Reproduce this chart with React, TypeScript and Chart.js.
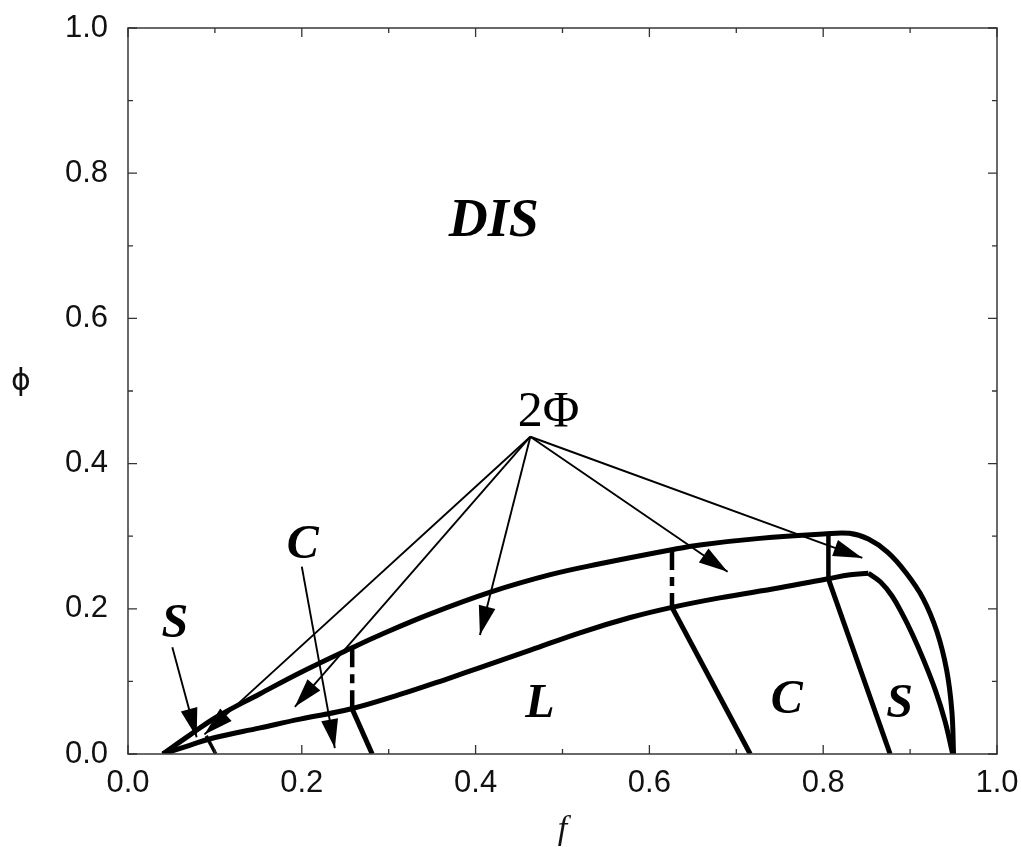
import React, { useEffect, useRef } from "react";
import { Chart, registerables } from "chart.js";

Chart.register(...registerables);

type Pt = { x: number; y: number };

// ---- data (f, phi) ----
const upperBoundary: Pt[] = [
  { x: 0.04, y: 0.0 }, { x: 0.071, y: 0.026 }, { x: 0.102, y: 0.051 }, { x: 0.152, y: 0.083 },
  { x: 0.198, y: 0.112 }, { x: 0.259, y: 0.147 }, { x: 0.29, y: 0.164 }, { x: 0.348, y: 0.193 },
  { x: 0.417, y: 0.223 }, { x: 0.486, y: 0.247 }, { x: 0.543, y: 0.262 }, { x: 0.624, y: 0.281 },
  { x: 0.658, y: 0.288 }, { x: 0.727, y: 0.297 }, { x: 0.8, y: 0.303 }, { x: 0.83, y: 0.304 },
  { x: 0.852, y: 0.296 }, { x: 0.874, y: 0.278 }, { x: 0.895, y: 0.25 }, { x: 0.915, y: 0.214 },
  { x: 0.931, y: 0.168 }, { x: 0.942, y: 0.116 }, { x: 0.948, y: 0.06 }, { x: 0.95, y: 0.0 },
];

const lowerBoundary: Pt[] = [
  { x: 0.04, y: 0.0 }, { x: 0.071, y: 0.012 }, { x: 0.098, y: 0.022 }, { x: 0.152, y: 0.036 },
  { x: 0.198, y: 0.048 }, { x: 0.256, y: 0.062 }, { x: 0.313, y: 0.082 }, { x: 0.371, y: 0.105 },
  { x: 0.405, y: 0.119 }, { x: 0.463, y: 0.143 }, { x: 0.52, y: 0.167 }, { x: 0.578, y: 0.188 },
  { x: 0.626, y: 0.202 }, { x: 0.681, y: 0.215 }, { x: 0.75, y: 0.229 }, { x: 0.804, y: 0.241 },
  { x: 0.831, y: 0.247 }, { x: 0.852, y: 0.249 },
];

const lowerTail: Pt[] = [
  { x: 0.852, y: 0.249 }, { x: 0.866, y: 0.237 }, { x: 0.879, y: 0.218 }, { x: 0.891, y: 0.193 },
  { x: 0.903, y: 0.164 }, { x: 0.915, y: 0.131 }, { x: 0.929, y: 0.088 }, { x: 0.94, y: 0.046 },
  { x: 0.949, y: 0.0 },
];

const boundaryLeft: Pt[] = [{ x: 0.258, y: 0.062 }, { x: 0.281, y: 0.0 }];
const boundaryMid: Pt[] = [{ x: 0.626, y: 0.202 }, { x: 0.716, y: 0.0 }];
const boundaryRight: Pt[] = [{ x: 0.806, y: 0.241 }, { x: 0.877, y: 0.0 }];
const boundaryTiny: Pt[] = [{ x: 0.09, y: 0.025 }, { x: 0.101, y: 0.0 }];

const tieLeft: Pt[] = [{ x: 0.258, y: 0.147 }, { x: 0.258, y: 0.062 }];
const tieMid: Pt[] = [{ x: 0.626, y: 0.281 }, { x: 0.626, y: 0.202 }];
const tieRight: Pt[] = [{ x: 0.806, y: 0.303 }, { x: 0.806, y: 0.241 }];

const twoPhiOrigin: Pt = { x: 0.463, y: 0.437 };
const twoPhiTips: Pt[] = [
  { x: 0.088, y: 0.027 }, { x: 0.192, y: 0.065 }, { x: 0.405, y: 0.164 },
  { x: 0.69, y: 0.251 }, { x: 0.845, y: 0.27 },
];
const arrowC: Pt[] = [{ x: 0.2, y: 0.258 }, { x: 0.238, y: 0.008 }];
const arrowS: Pt[] = [{ x: 0.051, y: 0.147 }, { x: 0.079, y: 0.023 }];

const tickLabels = ["0.0", "0.2", "0.4", "0.6", "0.8", "1.0"];
const minorTicks = [0, 0.1, 0.2, 0.3, 0.4, 0.5, 0.6, 0.7, 0.8, 0.9, 1.0];

const regionLabels = [
  { text: "DIS", x: 0.421, y: 0.733, kind: "big" },
  { text: "2Φ", x: 0.484, y: 0.47, kind: "roman" },
  { text: "C", x: 0.201, y: 0.287, kind: "bi" },
  { text: "S", x: 0.054, y: 0.178, kind: "bi" },
  { text: "L", x: 0.474, y: 0.068, kind: "bi" },
  { text: "C", x: 0.758, y: 0.074, kind: "bi" },
  { text: "S", x: 0.888, y: 0.068, kind: "bi" },
];

const fontFor: Record<string, string> = {
  big: 'bold italic 54px "Liberation Serif"',
  roman: '50px "Liberation Serif"',
  bi: 'bold italic 48px "Liberation Serif"',
};

const thick = (data: Pt[], extra: any = {}) => ({
  data,
  showLine: true,
  borderColor: "#000",
  borderWidth: 5,
  pointRadius: 0,
  borderCapStyle: "butt",
  borderJoinStyle: "round",
  ...extra,
});

const thin = (data: Pt[]) => ({
  data,
  showLine: true,
  borderColor: "#000",
  borderWidth: 1.9,
  pointRadius: 0,
  arrow: true,
});

const framePlugin = {
  id: "frame",
  beforeDraw(chart: any) {
    const { ctx, width, height } = chart;
    ctx.save();
    ctx.fillStyle = "#fff";
    ctx.fillRect(0, 0, width, height);
    ctx.restore();
  },
  afterDraw(chart: any) {
    const { ctx, chartArea: a, scales } = chart;
    ctx.save();
    ctx.strokeStyle = "#444";
    ctx.lineWidth = 1.6;
    ctx.strokeRect(a.left, a.top, a.right - a.left, a.bottom - a.top);
    ctx.lineWidth = 1.3;
    ctx.strokeStyle = "#333";
    minorTicks.forEach((v, i) => {
      const len = i % 2 === 0 ? 9 : 5;
      const px = scales.x.getPixelForValue(v);
      const py = scales.y.getPixelForValue(v);
      ctx.beginPath();
      ctx.moveTo(px, a.bottom); ctx.lineTo(px, a.bottom - len);
      ctx.moveTo(px, a.top); ctx.lineTo(px, a.top + len);
      ctx.moveTo(a.left, py); ctx.lineTo(a.left + len, py);
      ctx.moveTo(a.right, py); ctx.lineTo(a.right - len, py);
      ctx.stroke();
    });
    // axis titles
    ctx.fillStyle = "#111";
    ctx.textAlign = "center";
    ctx.textBaseline = "middle";
    ctx.font = '30px "DejaVu Sans"';
    ctx.fillText("ϕ", 21, (a.top + a.bottom) / 2 - 9);
    ctx.font = 'italic 34px "Liberation Serif"';
    ctx.textBaseline = "alphabetic";
    ctx.fillText("f", (a.left + a.right) / 2, 839);
    ctx.restore();
  },
};

const arrowPlugin = {
  id: "arrows",
  afterDatasetsDraw(chart: any) {
    const { ctx } = chart;
    ctx.save();
    ctx.fillStyle = "#000";
    chart.data.datasets.forEach((ds: any, i: number) => {
      if (!ds.arrow) return;
      const pts = chart.getDatasetMeta(i).data;
      const n = pts.length;
      const tip = pts[n - 1];
      const prev = pts[n - 2];
      const dx = tip.x - prev.x;
      const dy = tip.y - prev.y;
      const d = Math.hypot(dx, dy) || 1;
      const ux = dx / d, uy = dy / d;
      const L = 29, W = 8.5;
      const bx = tip.x - ux * L, by = tip.y - uy * L;
      ctx.beginPath();
      ctx.moveTo(tip.x, tip.y);
      ctx.lineTo(bx - uy * W, by + ux * W);
      ctx.lineTo(bx + uy * W, by - ux * W);
      ctx.closePath();
      ctx.fill();
    });
    ctx.restore();
  },
};

const labelPlugin = {
  id: "labels",
  afterDatasetsDraw(chart: any) {
    const { ctx, scales } = chart;
    ctx.save();
    ctx.fillStyle = "#000";
    ctx.textAlign = "center";
    ctx.textBaseline = "middle";
    regionLabels.forEach((l) => {
      ctx.font = fontFor[l.kind];
      ctx.fillText(l.text, scales.x.getPixelForValue(l.x), scales.y.getPixelForValue(l.y));
    });
    ctx.restore();
  },
};

export default function App() {
  const ref = useRef<HTMLCanvasElement | null>(null);
  useEffect(() => {
    if (!ref.current) return;
    const tickCfg = {
      stepSize: 0.2,
      font: { family: "Liberation Sans", size: 31 },
      color: "#111",
      callback: (v: any) => tickLabels[Math.round(Number(v) / 0.2)] ?? "",
    };
    const chart = new Chart(ref.current, {
      type: "scatter",
      data: {
        datasets: [
          thick(upperBoundary, { tension: 0.4 }),
          thick(lowerBoundary, { tension: 0.4 }),
          thick(lowerTail, { tension: 0.4 }),
          thick(boundaryLeft),
          thick(boundaryMid),
          thick(boundaryRight),
          thick(boundaryTiny, { borderWidth: 3.5 }),
          thick(tieLeft, { borderDash: [20, 7, 9, 7], borderWidth: 4.5 }),
          thick(tieMid, { borderDash: [20, 7, 9, 7], borderWidth: 4.5 }),
          thick(tieRight, { borderWidth: 4.5 }),
          ...twoPhiTips.map((t) => thin([twoPhiOrigin, t])),
          thin(arrowC),
          thin(arrowS),
        ] as any,
      },
      options: {
        animation: false,
        responsive: false,
        events: [],
        layout: { padding: { top: 28, right: 24, left: 0, bottom: 0 } },
        plugins: { legend: { display: false }, tooltip: { enabled: false } },
        scales: {
          x: {
            type: "linear",
            min: 0,
            max: 1,
            afterFit: (s: any) => {
              s.height = 93;
              s.paddingLeft = 0; s.paddingRight = 0; s.paddingTop = 0; s.paddingBottom = 0;
            },
            ticks: { ...tickCfg, padding: 11 },
            grid: { display: false, drawTicks: false },
            border: { display: false },
          },
          y: {
            type: "linear",
            min: 0,
            max: 1,
            afterFit: (s: any) => {
              s.width = 128;
              s.paddingLeft = 0; s.paddingRight = 0; s.paddingTop = 0; s.paddingBottom = 0;
            },
            ticks: { ...tickCfg, padding: 20 },
            grid: { display: false, drawTicks: false },
            border: { display: false },
          },
        },
      } as any,
      plugins: [framePlugin, arrowPlugin, labelPlugin],
    });
    return () => chart.destroy();
  }, []);
  return (
    <div style={{ position: "fixed", left: 0, top: 0, width: 1021, height: 847, background: "#fff" }}>
      <canvas ref={ref} width={1021} height={847} style={{ display: "block" }} />
    </div>
  );
}
